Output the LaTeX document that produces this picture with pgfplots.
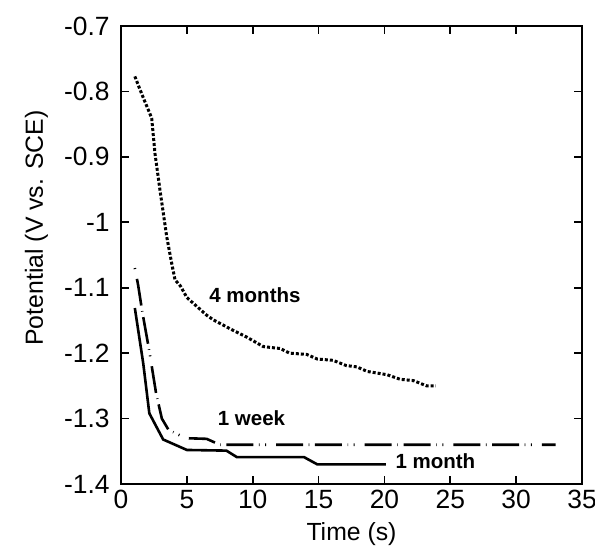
\documentclass[border=0pt]{standalone}
\usepackage{pgfplots}
\pgfplotsset{compat=1.18}
\usepackage{fontspec}
\setmainfont{Liberation Sans}
\begin{document}
\begin{tikzpicture}
\begin{axis}[
  scale only axis,
  width=230.5pt, height=229pt,
  xmin=0, xmax=35, ymin=-1.4, ymax=-0.7,
  xtick={0,5,...,35},
  ytick={-1.4,-1.3,-1.2,-1.1,-1,-0.9,-0.8,-0.7},
  tick align=inside,
  major tick length=4pt,
  every tick/.style={black, line width=0.9pt},
  axis line style={line width=0.9pt},
  /pgf/number format/assume math mode=true,
  yticklabel style={/pgf/number format/fixed, /pgf/number format/precision=1, font=\fontsize{13.2}{15}\selectfont, inner sep=0pt, xshift=-5.5pt},
  xticklabel style={font=\fontsize{13.2}{15}\selectfont, inner sep=0pt, yshift=-3pt},
  xlabel={Time (s)},
  ylabel={Potential (V vs. SCE)},
  xlabel style={font=\fontsize{12.4}{14}\selectfont, at={(axis description cs:0.5,-0.1103)}, anchor=center},
  ylabel style={font=\fontsize{12.4}{14}\selectfont, at={(axis description cs:-0.1833,0.559)}, anchor=center},
  clip=false,
]
% 4 months (dotted)
\addplot[black, line width=1.5pt, dash pattern=on 1.5pt off 1pt] coordinates {
(1.05,-0.777) (1.4,-0.795) (1.8,-0.815) (2.07,-0.828) (2.33,-0.841)
(2.58,-0.895) (2.96,-0.951) (3.47,-1.022) (3.85,-1.063) (4.1,-1.088)
(4.5,-1.097) (5.0,-1.115) (5.5,-1.124) (6.5,-1.142) (7.0,-1.149)
(8.3,-1.163) (9.5,-1.175) (10.8,-1.19) (12.1,-1.193) (12.8,-1.2)
(14.1,-1.202) (14.9,-1.209) (16.1,-1.211) (17.1,-1.219) (17.9,-1.221)
(18.7,-1.228) (20.2,-1.233) (21.2,-1.24) (22.2,-1.242) (23.2,-1.25) (23.9,-1.25)
};
% 1 week (dash-dot)
\addplot[black, line width=1.3pt, dash pattern=on 0.5pt off 5pt on 13.5pt off 2.8pt on 0.3pt off 2.8pt on 13.5pt off 2.8pt on 0.3pt off 2.8pt] coordinates {
(1.05,-1.07) (1.3,-1.096) (1.6,-1.135) (2.15,-1.197) (2.66,-1.261)
(3.1,-1.30) (3.6,-1.317) (4.2,-1.323) (4.9,-1.33) (6.5,-1.331)
(7.5,-1.34) (33,-1.34)
};
% 1 month (solid)
\addplot[black, line width=1.3pt] coordinates {
(1.05,-1.131) (1.69,-1.216) (2.15,-1.292) (3.2,-1.332) (5,-1.348)
(8,-1.349) (8.8,-1.359) (13.9,-1.359) (14.9,-1.37) (20.1,-1.37)
};
\node[font=\fontsize{10.25}{12}\bfseries] at (axis cs:10.17,-1.111) {4 months};
\node[font=\fontsize{10.25}{12}\bfseries] at (axis cs:9.91,-1.300) {1 week};
\node[font=\fontsize{10.25}{12}\bfseries] at (axis cs:23.87,-1.365) {1 month};
\coordinate (bl) at (rel axis cs:-0.2625,-0.1397);
\coordinate (tr) at (rel axis cs:1.0282,1.0568);
\end{axis}
\pgfresetboundingbox
\useasboundingbox (bl) rectangle (tr);
\end{tikzpicture}
\end{document}
